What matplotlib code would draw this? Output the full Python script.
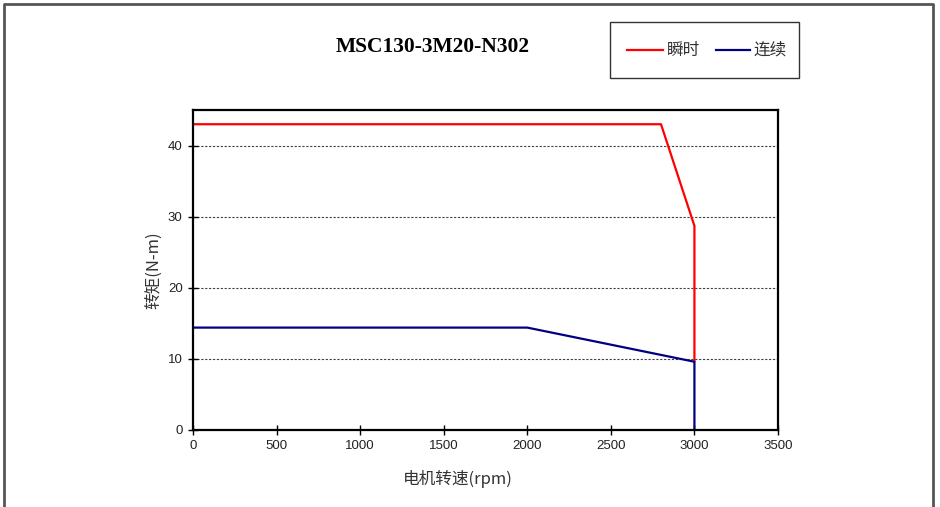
import matplotlib
matplotlib.use('Agg')
import matplotlib.pyplot as plt
from matplotlib.lines import Line2D
from matplotlib.patches import Rectangle

# torque curves (speed in rpm, torque in N-m)
peak_speed = [0, 2800, 3000, 3000]
peak_torque = [43, 43, 28.7, 9.7]
cont_speed = [0, 2000, 3000, 3000]
cont_torque = [14.4, 14.4, 9.6, 0]

x_ticks = [0, 500, 1000, 1500, 2000, 2500, 3000, 3500]
y_ticks = [0, 10, 20, 30, 40]

title = 'MSC130-3M20-N302'
labels = ['瞬时', '连续']
colors = ['#ff0000', '#000080']

cjk = ['Noto Sans CJK SC', 'DejaVu Sans']
narrow = ['Liberation Sans Narrow', 'Liberation Sans', 'DejaVu Sans']

W, H = 940, 507
fig = plt.figure(figsize=(W / 100, H / 100), dpi=100)
ax = fig.add_axes([193 / W, 1 - 430 / H, 585 / W, 320 / H])

ax.plot(peak_speed, peak_torque, color=colors[0], lw=1.6)
ax.plot(cont_speed, cont_torque, color=colors[1], lw=1.6)

ax.set_xlim(0, 3500)
ax.set_ylim(0, 45)
ax.set_xticks(x_ticks)
ax.set_yticks(y_ticks)
ax.yaxis.grid(True, color='#404040', ls=(0, (2, 1.5)), lw=0.8)
ax.set_axisbelow(True)
for s in ax.spines.values():
    s.set_linewidth(1.6)
ax.tick_params(direction='inout', length=7, width=1, labelsize=9.5, pad=4, labelcolor='#222222')
for t in ax.get_xticklabels() + ax.get_yticklabels():
    t.set_family(narrow)

ax.set_xlabel('电机转速(rpm)', family=cjk, fontsize=12, color='#333333')
ax.xaxis.set_label_coords((458 - 193) / 585, -(479 - 430) / 320)
ax.xaxis.label.set_va('center')
ax.set_ylabel('转矩(N-m)', family=cjk, fontsize=12, color='#333333', labelpad=4)

fig.text(433 / W, 1 - 47 / H, title, ha='center', va='center',
         family=['Liberation Serif', 'DejaVu Serif'], fontweight='bold', fontsize=15.5)

# legend box, drawn by hand to match the reference size
fig.add_artist(Rectangle((610 / W, 1 - 78 / H), 189 / W, 56 / H, transform=fig.transFigure,
                         fill=False, edgecolor='#333333', lw=1.0))
ly = 1 - 50 / H
for (x0, x1, tx), lab, c in zip([(627, 663, 667), (716, 750, 754)], labels, colors):
    fig.add_artist(Line2D([x0 / W, x1 / W], [ly, ly], transform=fig.transFigure, color=c, lw=1.6))
    fig.text(tx / W, ly, lab, ha='left', va='center', family=cjk, fontsize=12, color='#333333')

# outer frame (no bottom edge)
fx = [4 / W, 4 / W, 933 / W, 933 / W]
fy = [0, 1 - 4 / H, 1 - 4 / H, 0]
fig.add_artist(Line2D(fx, fy, transform=fig.transFigure, color='#555555', lw=2))

fig.savefig('out.png', dpi=100)
